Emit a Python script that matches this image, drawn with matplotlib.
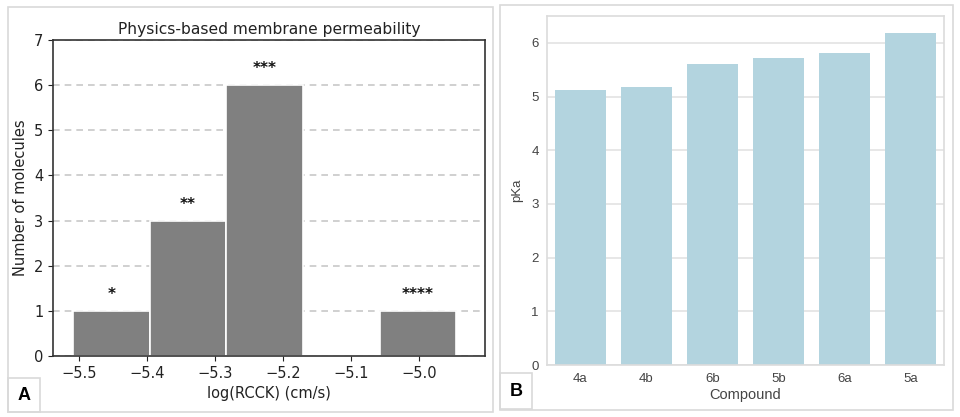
import numpy as np
import matplotlib
matplotlib.use('Agg')
import matplotlib.pyplot as plt
from matplotlib.patches import Rectangle

# Panel A: histogram of permeability
bin_edges = [-5.508, -5.396, -5.283, -5.171, -5.058, -4.946]
counts = [1, 3, 6, 0, 1]
stars = ['*', '**', '***', '', '****']

# Panel B: pKa per compound
compounds = ['4a', '4b', '6b', '5b', '6a', '5a']
pka = [5.12, 5.17, 5.61, 5.71, 5.82, 6.19]

fig = plt.figure(figsize=(9.6, 4.17), dpi=100)
W, H = 960, 417
ARIAL = ['Liberation Sans', 'DejaVu Sans']


def box(x0, y0, x1, y1, **kw):
    # pixel box (top-left origin) -> figure fraction rectangle
    r = Rectangle((x0 / W, 1 - y1 / H), (x1 - x0) / W, (y1 - y0) / H,
                  transform=fig.transFigure, fill=False, **kw)
    fig.patches.append(r)


# panel frames
box(8, 7, 493, 412, edgecolor='#d9d9d9', linewidth=1.2)
box(500, 5, 953, 410, edgecolor='#d9d9d9', linewidth=1.2)

# ---- A ----
ax1 = fig.add_axes([53 / W, 1 - 356 / H, (485 - 53) / W, (356 - 40) / H])
left = np.array(bin_edges[:-1])
widths = np.diff(bin_edges)
ax1.bar(left, counts, width=widths, align='edge', color='#808080',
        edgecolor='white', linewidth=1.2, zorder=2)
ax1.set_xlim(-5.538, -4.903)
ax1.set_ylim(0, 7)
ax1.set_yticks(range(8))
ax1.set_xticks([-5.5, -5.4, -5.3, -5.2, -5.1, -5.0])
ax1.yaxis.grid(True, linestyle=(0, (4, 3)), color='#c8c8c8', linewidth=1.2, zorder=0)
ax1.set_axisbelow(True)
for sp in ax1.spines.values():
    sp.set_color('#333333')
    sp.set_linewidth(1.2)
ax1.tick_params(labelsize=10.5, colors='#222222')
ax1.set_title('Physics-based membrane permeability', fontsize=11.2, color='#222222', pad=4)
ax1.set_xlabel('log(RCCK) (cm/s)', fontsize=10.5, color='#222222')
ax1.set_ylabel('Number of molecules', fontsize=10.5, color='#222222')
centers = left + widths / 2
for xc, c, s in zip(centers, counts, stars):
    if s:
        ax1.text(xc, c + 0.2, s, ha='center', va='bottom', fontsize=11, fontweight='bold', color='#111111')

# ---- B ----
ax2 = fig.add_axes([547 / W, 1 - 365 / H, (944 - 547) / W, (365 - 16) / H])
xpos = np.arange(len(compounds))
ax2.bar(xpos, pka, width=0.77, color='#b3d4df', zorder=2)
ax2.set_xlim(-0.5, len(compounds) - 0.5)
ax2.set_ylim(0, 6.5)
ax2.set_xticks(xpos)
ax2.set_xticklabels(compounds, family=ARIAL)
ax2.set_yticks(range(7))
ax2.set_yticklabels([str(v) for v in range(7)], family=ARIAL)
ax2.yaxis.grid(True, color='#e3e3e3', linewidth=1.2, zorder=0)
ax2.set_axisbelow(True)
for sp in ax2.spines.values():
    sp.set_color('#dcdcdc')
    sp.set_linewidth(1.2)
ax2.tick_params(length=0, labelsize=9.5, colors='#444444', pad=6)
ax2.set_xlabel('Compound', fontsize=10.5, color='#444444', family=ARIAL, labelpad=2)
ax2.set_ylabel('pKa', fontsize=9.5, color='#444444', family=ARIAL, labelpad=6)

# panel letters
box(8, 378, 40, 412, edgecolor='#d9d9d9', linewidth=1.2)
box(500, 373, 532, 409, edgecolor='#d9d9d9', linewidth=1.2)
fig.text(24 / W, 1 - 395 / H, 'A', ha='center', va='center', fontsize=13,
         fontweight='bold', family=ARIAL)
fig.text(516 / W, 1 - 391 / H, 'B', ha='center', va='center', fontsize=13,
         fontweight='bold', family=ARIAL)

fig.savefig('out.png', dpi=100)
